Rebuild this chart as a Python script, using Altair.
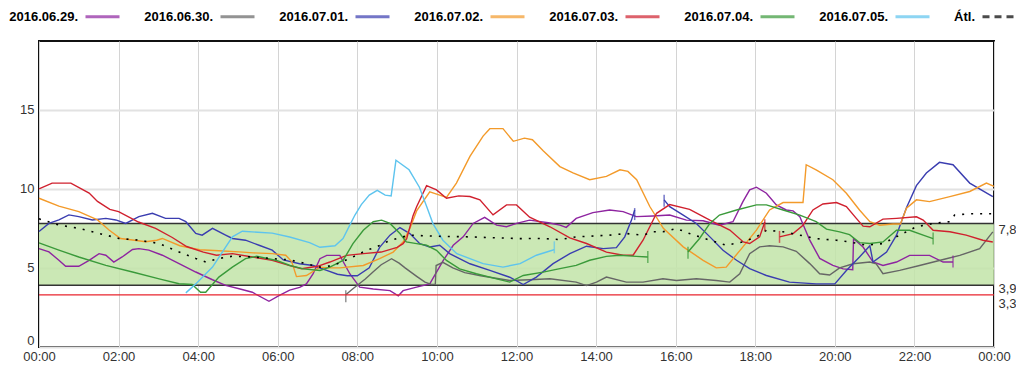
import altair as alt
import pandas as pd

# ---------------- data (hours since 00:00, mmol/l) ----------------
SERIES = ["2016.06.29.", "2016.06.30.", "2016.07.01.", "2016.07.02.",
          "2016.07.03.", "2016.07.04.", "2016.07.05.", "Átl."]
COLORS = ["#8e24a0", "#666666", "#3a3db0", "#f39a2a",
          "#d0202e", "#3a9a3a", "#5ec4ee", "#000000"]

D0629_A = [[0, 6.22], [0.25, 6.01], [0.5, 5.48], [0.67, 5.1], [1.0, 5.1], [1.26, 5.48], [1.51, 5.9],
           [1.68, 5.8], [1.88, 5.37], [2.09, 5.69], [2.35, 6.16], [2.51, 6.22], [2.76, 6.12], [3.1, 5.8],
           [3.52, 5.27], [3.94, 4.74], [4.36, 4.25], [4.69, 3.89], [5.03, 3.68], [5.36, 3.46], [5.78, 2.89],
           [6.03, 3.25], [6.3, 3.6], [6.55, 3.77], [6.72, 3.99], [6.89, 4.63], [7.06, 5.58], [7.23, 5.79],
           [7.56, 5.79], [7.81, 4.63], [8.06, 3.78], [8.4, 3.67], [8.82, 3.56], [9.03, 3.24], [9.15, 3.56],
           [9.49, 3.78], [9.82, 3.99], [10.16, 5.47], [10.41, 6.43], [10.66, 6.96], [10.91, 7.81],
           [11.2, 8.19], [11.5, 7.7], [11.75, 7.6], [12.0, 7.81], [12.33, 8.02], [12.8, 7.85], [13.09, 7.7],
           [13.25, 7.56], [13.5, 8.13], [13.92, 8.49], [14.34, 8.66], [14.68, 8.56], [15.01, 8.24],
           [15.43, 8.28], [15.85, 8.34], [16.27, 8.02], [16.69, 7.98], [17.1, 7.7], [17.44, 7.92],
           [17.69, 9.19], [17.86, 9.93], [18.03, 10.1], [18.28, 9.72], [18.53, 8.98], [18.78, 8.66],
           [18.95, 8.6], [19.12, 8.23], [19.37, 6.75], [19.62, 5.6], [19.95, 5.16], [20.21, 4.94],
           [20.45, 4.88], [20.47, 6.85], [20.71, 6.32], [20.96, 5.37], [21.21, 5.15], [21.55, 5.37],
           [21.88, 5.79], [22.38, 5.79], [22.72, 5.37], [22.97, 5.37]]

D0630_A = [[7.71, 3.3], [7.85, 3.6], [8.0, 3.9], [8.2, 4.3], [8.4, 4.75], [8.6, 5.2], [8.86, 5.58],
           [9.05, 5.3], [9.2, 5.0], [9.5, 4.45], [9.7, 4.1], [9.86, 3.95], [9.96, 3.97], [9.98, 5.15],
           [10.15, 5.35], [10.4, 5.0], [10.7, 4.7], [11.1, 4.5], [11.6, 4.3], [11.83, 4.2], [12.33, 4.25],
           [12.84, 4.31], [13.5, 4.1], [13.76, 3.88], [14.01, 4.1], [14.26, 4.42], [14.76, 4.1],
           [15.18, 4.1], [15.68, 4.31], [16.02, 4.2], [16.52, 4.31], [17.02, 4.2], [17.36, 4.1],
           [17.61, 4.63], [17.86, 5.9], [18.11, 6.33], [18.36, 6.4], [18.7, 6.33], [19.03, 6.05],
           [19.37, 5.27], [19.62, 4.63], [19.87, 4.55], [20.12, 5.0], [20.46, 5.26], [20.88, 5.37],
           [21.04, 5.26], [21.21, 4.63], [21.63, 4.84], [22.13, 5.15], [22.8, 5.58], [23.14, 5.79],
           [23.64, 6.22], [23.97, 7.28]]

D0701_A = [[0, 7.3], [0.25, 7.81], [0.5, 8.03], [0.75, 8.35], [1.0, 8.24], [1.34, 8.03], [1.68, 8.13],
           [1.93, 8.03], [2.18, 7.81], [2.51, 8.24], [2.85, 8.45], [3.18, 8.13], [3.52, 8.13], [3.69, 7.92],
           [3.94, 7.18], [4.1, 7.07], [4.36, 7.5], [4.69, 7.07], [4.86, 6.86], [5.19, 6.75], [5.53, 6.43],
           [5.86, 6.12], [6.14, 5.5], [6.55, 5.26], [6.89, 5.15], [7.23, 4.84], [7.5, 4.6], [7.75, 4.5],
           [8.0, 4.5], [8.3, 5.0], [8.56, 6.3], [8.82, 7.07], [9.07, 7.55], [9.32, 7.17], [9.57, 6.53],
           [9.82, 6.32], [10.07, 6.43], [10.32, 5.9], [10.83, 5.26], [11.33, 4.84], [11.83, 4.41],
           [12.17, 3.95], [12.5, 4.42], [12.92, 5.27], [13.34, 5.9], [13.76, 6.37], [14.18, 6.22],
           [14.51, 6.28], [14.72, 6.96], [14.89, 8.02], [14.97, 8.66]]
D0701_B = [[15.71, 9.3], [15.85, 8.87], [16.19, 8.34], [16.52, 7.81], [16.86, 6.96], [17.19, 6.11],
           [17.53, 5.48], [17.86, 4.95], [18.28, 4.52], [18.86, 4.1], [19.53, 3.99], [20.0, 3.99],
           [20.29, 4.84], [20.62, 5.69], [20.88, 6.4], [20.96, 5.37], [21.3, 6.0], [21.55, 7.07],
           [21.8, 8.8], [22.05, 10.2], [22.3, 11.0], [22.63, 11.67], [22.97, 11.52], [23.39, 10.36],
           [23.7, 9.9], [23.97, 9.51]]

D0702_A = [[0, 9.4], [0.5, 8.9], [1.0, 8.56], [1.47, 8.03], [1.76, 7.39], [2.05, 6.86], [2.4, 6.75],
           [2.68, 6.65], [2.96, 6.75], [3.1, 6.86], [3.54, 6.4], [4.04, 6.15], [4.52, 6.08], [5.03, 6.01],
           [5.38, 5.95], [5.86, 5.9], [6.2, 5.8], [6.35, 5.4], [6.47, 4.45], [6.72, 4.52], [7.06, 5.05],
           [7.3, 5.0], [7.56, 5.0], [8.15, 5.15], [8.56, 5.58], [8.9, 6.0], [9.15, 6.64], [9.32, 7.49],
           [9.49, 8.6], [9.82, 9.8], [10.07, 9.6], [10.24, 9.46], [10.49, 10.36], [10.83, 12.05],
           [11.16, 13.33], [11.33, 13.8], [11.66, 13.8], [11.92, 13.0], [12.2, 13.2], [12.4, 13.1],
           [12.67, 12.4], [13.09, 11.4], [13.42, 11.0], [13.84, 10.57], [14.26, 10.78], [14.6, 11.2],
           [14.8, 11.1], [15.02, 10.57], [15.35, 8.88], [15.69, 7.5], [16.19, 6.33], [16.69, 5.48],
           [17.02, 5.0], [17.27, 5.05], [17.69, 6.33], [18.03, 7.39], [18.36, 8.66], [18.7, 9.13],
           [19.2, 9.13], [19.28, 11.52], [19.53, 11.2], [19.95, 10.57], [20.29, 9.72], [20.62, 8.66],
           [20.88, 7.92], [21.13, 7.7], [21.46, 7.77], [21.65, 7.77], [21.8, 8.77], [22.05, 9.3],
           [22.38, 9.19], [22.89, 9.5], [23.39, 9.83], [23.81, 10.36], [24.0, 10.15]]

D0703_A = [[0, 10.0], [0.33, 10.36], [0.8, 10.36], [1.26, 9.73], [1.47, 9.2], [1.78, 8.7], [2.0, 8.56],
           [2.5, 7.9], [2.93, 7.5], [3.35, 6.92], [3.71, 6.35], [4.13, 6.0], [4.46, 5.8], [4.86, 5.9],
           [5.36, 5.69], [5.86, 5.48], [6.28, 5.16], [6.6, 4.95], [7.0, 5.1], [7.31, 5.37], [7.73, 5.79],
           [8.15, 5.9], [8.6, 6.0], [9.0, 6.3], [9.15, 6.53], [9.24, 6.85], [9.4, 8.3], [9.49, 8.87],
           [9.74, 10.2], [9.99, 9.93], [10.24, 9.4], [10.55, 9.55], [10.83, 9.51], [11.08, 9.3],
           [11.41, 8.35], [11.75, 8.98], [12.0, 8.98], [12.33, 8.2], [12.84, 7.6], [13.34, 6.9],
           [13.76, 6.54], [14.26, 6.0], [14.68, 5.8], [14.93, 5.8], [15.18, 6.75], [15.52, 8.45],
           [15.85, 9.0], [16.35, 8.7], [16.86, 8.02], [17.36, 7.39], [17.7, 6.64], [17.86, 6.54],
           [18.11, 6.96], [18.24, 7.9]]
D0703_B = [[18.61, 6.96], [18.95, 7.17], [19.2, 7.7], [19.45, 8.66], [19.7, 9.04], [20.04, 9.13],
           [20.29, 8.87], [20.54, 8.13], [20.71, 7.64], [20.88, 7.6], [21.21, 8.08], [21.55, 8.13],
           [22.05, 8.23], [22.22, 8.02], [22.47, 7.38], [22.89, 7.28], [23.3, 7.07], [23.72, 6.75],
           [23.97, 6.64]]

D0704_A = [[0, 6.58], [0.5, 6.12], [1.0, 5.69], [1.68, 5.16], [2.35, 4.74], [3.02, 4.31], [3.52, 4.0],
           [3.85, 3.95], [4.06, 3.46], [4.19, 3.46], [4.52, 4.42], [4.86, 5.05], [5.19, 5.59],
           [5.47, 5.73], [5.97, 5.47], [6.31, 5.15], [6.64, 4.94], [7.06, 4.84], [7.31, 5.05],
           [7.64, 5.47], [7.89, 6.53], [8.15, 7.38], [8.4, 7.92], [8.61, 8.02], [8.82, 7.81], [9.07, 7.17],
           [9.23, 6.64], [9.49, 6.53], [9.74, 6.43], [9.99, 6.11], [10.24, 5.47], [10.57, 4.94],
           [10.99, 4.63], [11.5, 4.31], [11.83, 4.1], [12.17, 4.52], [12.67, 4.73], [13.09, 4.95],
           [13.5, 5.16], [13.84, 5.48], [14.26, 5.73], [14.59, 5.8], [15.01, 5.73], [15.3, 5.69]]
D0704_B = [[16.31, 6.0], [16.6, 6.86], [16.86, 7.81], [17.1, 8.34], [17.53, 8.66], [18.03, 8.98],
           [18.28, 8.98], [18.7, 8.66], [19.12, 8.34], [19.53, 7.92], [19.79, 7.45], [20.12, 7.28],
           [20.37, 7.1], [20.62, 6.6], [20.88, 6.54], [21.21, 6.64], [21.55, 7.38], [21.88, 7.38],
           [22.22, 7.07], [22.47, 6.85]]

D0705_A = [[3.69, 3.42], [3.94, 3.99], [4.36, 5.05], [4.86, 6.96], [5.11, 7.32], [5.5, 7.25], [5.86, 7.2],
           [6.3, 6.95], [6.8, 6.6], [7.06, 6.3], [7.44, 6.4], [7.64, 6.85], [7.81, 7.7], [7.94, 8.34],
           [8.1, 9.0], [8.3, 9.6], [8.5, 9.9], [8.7, 9.6], [8.85, 9.55], [8.97, 11.8], [9.3, 11.2],
           [9.56, 10.1], [9.74, 8.9], [9.9, 7.8], [10.15, 6.75], [10.5, 5.9], [11.16, 5.27], [11.66, 5.05],
           [12.09, 5.27], [12.5, 5.8], [12.88, 6.1], [12.95, 6.15]]

AVG_A = [[0, 8.1], [0.5, 7.71], [1.0, 7.5], [1.51, 7.18], [2.01, 6.86], [2.51, 6.75], [3.02, 6.54],
         [3.52, 6.01], [3.94, 5.59], [4.19, 5.37], [4.52, 5.59], [4.86, 5.74], [5.36, 5.69], [5.86, 5.59],
         [6.31, 5.5], [6.72, 5.26], [7.06, 5.05], [7.4, 5.15], [7.89, 5.69], [8.23, 6.11], [8.48, 6.32],
         [8.73, 6.64], [8.98, 6.85], [9.32, 7.07], [9.99, 7.0], [10.83, 6.96], [11.5, 6.9], [12.08, 6.85],
         [12.67, 6.86], [13.09, 6.79], [13.5, 6.96], [14.34, 7.07], [14.76, 7.17], [15.18, 7.07],
         [15.43, 7.28], [15.68, 7.28], [16.02, 7.49], [16.35, 7.17], [16.86, 6.75], [17.27, 6.43],
         [17.69, 6.64], [18.03, 6.96], [18.28, 7.38], [18.7, 7.28], [19.12, 7.07], [19.53, 6.85],
         [20.04, 6.75], [20.37, 6.64], [20.79, 6.43], [21.21, 6.54], [21.63, 7.07], [22.05, 7.6],
         [22.47, 7.81], [22.89, 7.92], [23.01, 8.34], [23.39, 8.42], [23.97, 8.42]]

SEGMENTS = {
    "2016.06.29.": [D0629_A],
    "2016.06.30.": [D0630_A],
    "2016.07.01.": [D0701_A, D0701_B],
    "2016.07.02.": [D0702_A],
    "2016.07.03.": [D0703_A, D0703_B],
    "2016.07.04.": [D0704_A, D0704_B],
    "2016.07.05.": [D0705_A],
}
AVERAGE = {"Átl.": [AVG_A]}

# sensor start / stop markers: series, hour, value
MARKERS = [["2016.06.29.", 22.97, 5.4], ["2016.06.30.", 7.71, 3.2],
           ["2016.07.01.", 14.97, 8.4], ["2016.07.01.", 15.71, 9.25],
           ["2016.07.03.", 18.24, 7.7], ["2016.07.03.", 18.61, 6.96],
           ["2016.07.04.", 15.3, 5.69], ["2016.07.04.", 16.31, 5.95],
           ["2016.07.04.", 22.47, 6.85], ["2016.07.05.", 12.95, 6.3]]

TARGET_LOW, TARGET_HIGH, HYPO = 3.9, 7.8, 3.3
Y_MAX = 19.34
X_TICKS = list(range(0, 25, 2))


# ---------------- tables ----------------
def to_rows(segdict):
    out = []
    for s, segs in segdict.items():
        for i, seg in enumerate(segs):
            for h, v in seg:
                out.append({"series": s, "seg": f"{s}-{i}", "h": h, "v": v})
    return pd.DataFrame(out)


lines_df = to_rows(SEGMENTS)
avg_df = to_rows(AVERAGE)
markers_df = pd.DataFrame(MARKERS, columns=["series", "h", "v"])
band_df = pd.DataFrame({"x0": [0], "x1": [24], "lo": [TARGET_LOW], "hi": [TARGET_HIGH]})
band_lines_df = pd.DataFrame({"v": [TARGET_LOW, TARGET_HIGH]})
hypo_df = pd.DataFrame({"v": [HYPO]})

FONT = "Liberation Sans"

x_scale = alt.Scale(domain=[0, 24], nice=False, zero=False)
y_scale = alt.Scale(domain=[0, Y_MAX], nice=False)

x_axis = alt.Axis(values=X_TICKS, title=None, grid=True, gridColor="#d4d4d4", gridWidth=1,
                  ticks=False, domain=False, labelFlush=False, labelPadding=3,
                  labelFont=FONT, labelFontSize=13, labelColor="#333",
                  labelExpr="(datum.value % 24 < 10 ? '0' : '') + (datum.value % 24) + ':00'")
y_axis = alt.Axis(values=[0, 5, 10, 15], title=None, grid=True, gridColor="#e2e2e2", gridWidth=2,
                  ticks=False, domain=False, labelPadding=5, labelFlush=True,
                  labelFont=FONT, labelFontSize=13, labelColor="#333")
y_axis_right = alt.Axis(orient="right", values=[HYPO, TARGET_LOW, TARGET_HIGH], title=None, grid=False,
                        ticks=False, domain=False, labelPadding=4, labelBaseline="middle",
                        labelOffset={"expr": "datum.value == 3.3 ? 9 : datum.value == 3.9 ? 3 : 6"},
                        labelOverlap=False, labelFlush=False, labelFont=FONT, labelFontSize=13,
                        labelColor="#333",
                        labelExpr="replace(format(datum.value, '.1f'), '.', ',')")

color = alt.Color("series:N", scale=alt.Scale(domain=SERIES, range=COLORS),
                  legend=alt.Legend(orient="none", legendX=45, legendY=-43, direction="horizontal",
                                    columns=8, columnPadding=18, title=None, symbolType="stroke",
                                    symbolSize=1156, symbolStrokeWidth=3,
                                    symbolDash={"expr": "datum.label == 'Átl.' ? [7, 5] : [1, 0]"},
                                    labelOffset={"expr": "-43"},
                                    labelAlign="right", labelFont=FONT, labelFontSize=13,
                                    labelFontWeight="bold", labelColor="#000", padding=0))

band = alt.Chart(band_df).mark_rect(color="#c2e4a8", opacity=0.85).encode(
    x=alt.X("x0:Q", scale=x_scale, axis=x_axis), x2="x1:Q",
    y=alt.Y("lo:Q", scale=y_scale, axis=y_axis), y2="hi:Q")

band_lines = alt.Chart(band_lines_df).mark_rule(color="#333333", strokeWidth=1.5).encode(
    y=alt.Y("v:Q", scale=y_scale, axis=y_axis))

lines = alt.Chart(lines_df).mark_line(strokeWidth=1.4).encode(
    x=alt.X("h:Q", scale=x_scale, axis=x_axis),
    y=alt.Y("v:Q", scale=y_scale, axis=y_axis),
    color=color, detail="seg:N")

avg = alt.Chart(avg_df).mark_line(strokeWidth=1.6, strokeDash=[2, 7]).encode(
    x=alt.X("h:Q", scale=x_scale, axis=x_axis),
    y=alt.Y("v:Q", scale=y_scale, axis=y_axis),
    color=color, detail="seg:N")

marks = alt.Chart(markers_df).mark_tick(orient="vertical", size=12, thickness=1.5).encode(
    x=alt.X("h:Q", scale=x_scale, axis=x_axis),
    y=alt.Y("v:Q", scale=y_scale, axis=y_axis),
    color=color)

hypo = alt.Chart(hypo_df).mark_rule(color="#e8242e", strokeWidth=1.2).encode(
    y=alt.Y("v:Q", scale=y_scale, axis=y_axis_right))

main = alt.layer(band, band_lines, lines, avg, marks)

chart = alt.layer(main, hypo).resolve_axis(y="independent").properties(
    width=955, height=306,
    autosize=alt.AutoSizeParams(type="none"),
    padding={"left": 31, "top": 33, "right": 22, "bottom": 20},
).configure_view(stroke="#111111", strokeWidth=2)

chart.save("out.html", embed_options={"renderer": "svg", "actions": False})
